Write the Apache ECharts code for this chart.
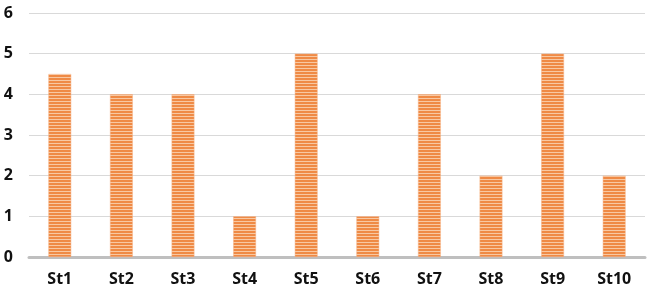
<!DOCTYPE html>
<html>
<head>
<meta charset="utf-8">
<script src="https://cdn.jsdelivr.net/npm/echarts@6/dist/echarts.min.js"></script>
<style>
  html, body { margin: 0; padding: 0; background: #fff; }
  #chart { width: 649px; height: 290px; }
</style>
</head>
<body>
<div id="chart"></div>
<script>
// chart data
var categories = ['St1', 'St2', 'St3', 'St4', 'St5', 'St6', 'St7', 'St8', 'St9', 'St10'];
var values = [4.5, 4, 4, 1, 5, 1, 4, 2, 5, 2];

// horizontal stripe fill, like the office "narrow horizontal" pattern
function stripePattern() {
  var c = document.createElement('canvas');
  c.width = 4;
  c.height = 3;
  var ctx = c.getContext('2d');
  ctx.fillStyle = '#EF8A45';
  ctx.fillRect(0, 0, 4, 3);
  ctx.fillStyle = '#F8C8A2';
  ctx.fillRect(0, 2, 4, 1);
  return c;
}

var chart = echarts.init(document.getElementById('chart'));
chart.setOption({
  animation: false,
  grid: { left: 29, right: 4, top: 13, bottom: 33 },
  xAxis: {
    type: 'category',
    data: categories,
    axisLine: { lineStyle: { color: '#BFBFBF', width: 3 } },
    axisTick: { show: false },
    axisLabel: {
      color: '#111',
      fontFamily: 'Open Sans',
      fontWeight: 'bold',
      fontSize: 16,
      margin: 14
    }
  },
  yAxis: {
    type: 'value',
    min: 0,
    max: 6,
    interval: 1,
    axisLine: { show: false },
    axisTick: { show: false },
    splitLine: { lineStyle: { color: '#D9D9D9', width: 1 } },
    axisLabel: {
      color: '#111',
      fontFamily: 'Open Sans',
      fontWeight: 'bold',
      fontSize: 16,
      margin: 16
    }
  },
  series: [{
    type: 'bar',
    data: values,
    barWidth: '37%',
    itemStyle: {
      color: { image: stripePattern(), repeat: 'repeat' },
      borderColor: '#F6B589',
      borderWidth: 0.5
    }
  }]
});
</script>
</body>
</html>
